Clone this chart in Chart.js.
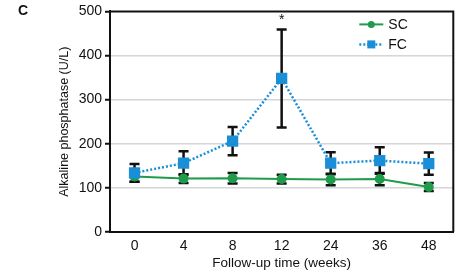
<!DOCTYPE html>
<html>
<head>
<meta charset="utf-8">
<script src="https://cdn.jsdelivr.net/npm/chart.js@4"></script>
<style>body{margin:0;background:#fff}</style>
</head>
<body>
<canvas id="alpChart" width="462" height="276"></canvas>
<script>
// follow-up weeks (categories)
const weeks = ['0', '4', '8', '12', '24', '36', '48'];
// SC group: mean and error
const scMean = [126, 121, 122, 120, 119, 120, 102];
const scErr = [12, 10, 12, 10, 13, 14, 9];
// FC group: mean and error
const fcMean = [134, 156, 206, 348, 156, 162, 155];
const fcErr = [20, 27, 32, 111, 25, 30, 25];
// significance marks per week
const sigMarks = ['', '', '', '*', '', '', ''];
const yTicks = [0, 100, 200, 300, 400, 500];

const green = '#1f9c4b';
const blue = '#1a8fd8';
const fontFamily = "'Liberation Sans', Arial, sans-serif";
Chart.defaults.font.family = fontFamily;
Chart.defaults.color = '#111';

const errorBars = {
    id: 'errorBars',
    beforeDatasetsDraw(chart) {
        const ctx = chart.ctx;
        const xs = chart.scales.x, ys = chart.scales.y;
        ctx.save();
        ctx.strokeStyle = '#111';
        ctx.lineWidth = 2.5;
        [[scMean, scErr], [fcMean, fcErr]].forEach(function (pair) {
            const m = pair[0], e = pair[1];
            for (let i = 0; i < m.length; i++) {
                const px = xs.getPixelForValue(i);
                const top = ys.getPixelForValue(m[i] + e[i]);
                const bot = ys.getPixelForValue(m[i] - e[i]);
                ctx.beginPath();
                ctx.moveTo(px, top); ctx.lineTo(px, bot);
                ctx.moveTo(px - 5, top); ctx.lineTo(px + 5, top);
                ctx.moveTo(px - 5, bot); ctx.lineTo(px + 5, bot);
                ctx.stroke();
            }
        });
        ctx.restore();
    },
    afterDraw(chart) {
        const ctx = chart.ctx;
        const xs = chart.scales.x, ys = chart.scales.y;
        const area = chart.chartArea;
        ctx.save();
        // top and right frame
        ctx.strokeStyle = '#111';
        ctx.lineWidth = 2;
        ctx.beginPath();
        ctx.moveTo(area.left, area.top);
        ctx.lineTo(area.right, area.top);
        ctx.lineTo(area.right, area.bottom);
        ctx.stroke();

        // significance stars
        ctx.fillStyle = '#111';
        ctx.font = '14px ' + fontFamily;
        ctx.textAlign = 'center';
        ctx.textBaseline = 'middle';
        sigMarks.forEach(function (s, i) {
            if (!s) return;
            ctx.fillText(s, xs.getPixelForValue(i), ys.getPixelForValue(fcMean[i] + fcErr[i]) - 9);
        });

        // panel letter
        ctx.font = 'bold 14px ' + fontFamily;
        ctx.textAlign = 'left';
        ctx.fillText('C', 18, 11);

        // legend
        const lx = area.right - 94, ly = area.top + 13;
        ctx.font = '14px ' + fontFamily;
        ctx.textAlign = 'left';
        // SC
        ctx.strokeStyle = green; ctx.lineWidth = 2;
        ctx.beginPath(); ctx.moveTo(lx, ly); ctx.lineTo(lx + 24, ly); ctx.stroke();
        ctx.fillStyle = green;
        ctx.beginPath(); ctx.arc(lx + 12, ly, 3.5, 0, Math.PI * 2); ctx.fill();
        ctx.fillStyle = '#111';
        ctx.fillText('SC', lx + 29, ly + 1);
        // FC
        const fy = ly + 20;
        ctx.strokeStyle = blue; ctx.lineWidth = 2.5;
        ctx.setLineDash([2, 2]);
        ctx.beginPath(); ctx.moveTo(lx, fy); ctx.lineTo(lx + 24, fy); ctx.stroke();
        ctx.setLineDash([]);
        ctx.fillStyle = blue;
        ctx.fillRect(lx + 8, fy - 4, 8, 8);
        ctx.fillStyle = '#111';
        ctx.fillText('FC', lx + 29, fy + 1);
        ctx.restore();
    }
};

const ctx = document.getElementById('alpChart');

new Chart(ctx, {
    type: 'line',
    data: {
        labels: weeks,
        datasets: [
            {
                label: 'FC',
                data: fcMean,
                borderColor: blue,
                backgroundColor: blue,
                borderWidth: 2.5,
                borderDash: [2, 2],
                pointStyle: 'rect',
                pointRadius: 6.2,
                pointHoverRadius: 6.2,
                tension: 0
            },
            {
                label: 'SC',
                data: scMean,
                borderColor: green,
                backgroundColor: green,
                borderWidth: 2,
                pointStyle: 'circle',
                pointRadius: 4,
                pointHoverRadius: 4,
                tension: 0
            }
        ]
    },
    options: {
        responsive: false,
        animation: false,
        layout: { padding: { left: 0, top: 10, right: 4, bottom: 0 } },
        plugins: {
            legend: { display: false },
            tooltip: { enabled: false }
        },
        scales: {
            x: {
                offset: true,
                grid: { display: false, drawTicks: false },
                border: { display: true, color: '#111', width: 2 },
                ticks: { padding: 6, font: { size: 14 }, color: '#111' },
                title: {
                    display: true,
                    text: 'Follow-up time (weeks)',
                    font: { size: 13.5 },
                    color: '#111',
                    padding: { top: 0, bottom: 5 }
                },
                afterFit: function (scale) { scale.height = 44; }
            },
            y: {
                min: 0,
                max: 500,
                afterBuildTicks: function (scale) {
                    scale.ticks = yTicks.map(function (v) { return { value: v }; });
                },
                grid: {
                    color: function (c) {
                        return (c.tick && (c.tick.value === 0 || c.tick.value === 500)) ? 'rgba(0,0,0,0)' : '#d6d6d6';
                    },
                    lineWidth: 1.5,
                    tickColor: '#111',
                    tickWidth: 2,
                    tickLength: 5
                },
                border: { display: true, color: '#111', width: 2 },
                ticks: { padding: 3, font: { size: 14 }, color: '#111' },
                title: {
                    display: true,
                    text: 'Alkaline phosphatase (U/L)',
                    font: { size: 12.5 },
                    color: '#111',
                    padding: { top: 57, bottom: 0 }
                },
                afterFit: function (scale) { scale.width = 110; }
            }
        }
    },
    plugins: [errorBars]
});
</script>
</body>
</html>
